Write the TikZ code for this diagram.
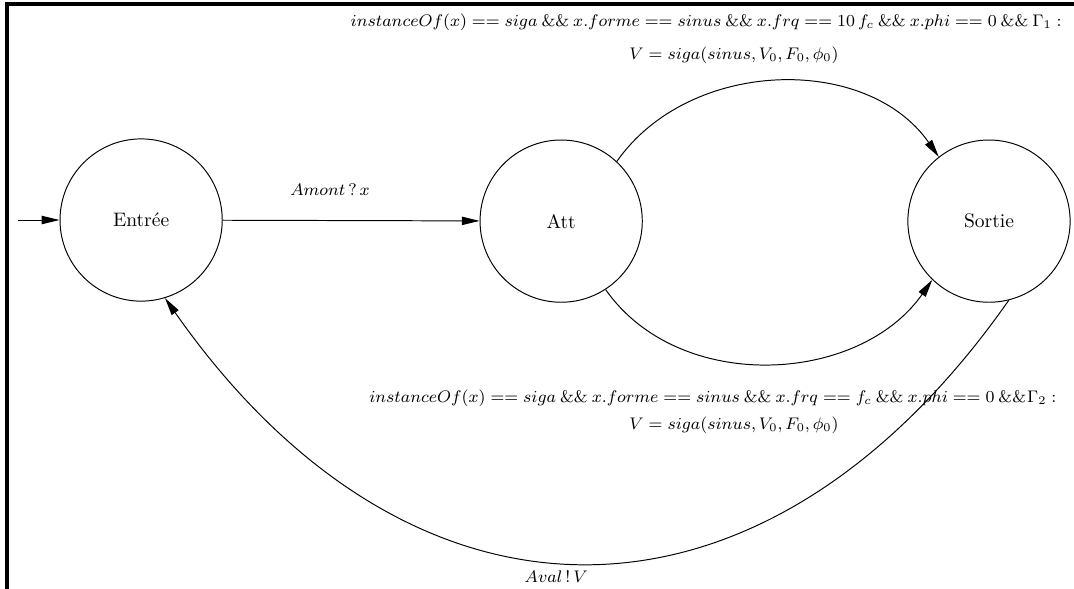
\RequirePackage{fix-cm}
\documentclass[tikz,border=0pt]{standalone}
\usepackage{amsmath,amssymb}
\usepackage{xcolor}
\usepackage{tikz}
\usetikzlibrary{arrows.meta}
\definecolor{traitnoir}{HTML}{000000}
\tikzset{
  etat/.style={circle, draw=traitnoir, line width=0.5pt, minimum size=2.92cm,
               inner sep=0pt, font=\normalsize},
  trans/.style={-{Triangle[length=3.2mm,width=1.5mm]}, line width=0.5pt,
                draw=traitnoir},
  garde/.style={inner sep=1pt, font=\fontsize{8.6pt}{10pt}\selectfont},
  cadre/.style={line width=2pt, draw=traitnoir},
}
\newcommand{\etet}{\mathbin{\&\&}}

\begin{document}
\begin{tikzpicture}
\useasboundingbox (0,0) rectangle (19.33,-10.60);

% ---------------- frame ---------------------------------------------------
\coordinate (hg) at (0.126,-0.08);
\coordinate (hd) at (19.40,-0.08);
\coordinate (bg) at (0.126,-10.70);
\draw[cadre] (hd) -- (hg) -- (bg);

% ---------------- states --------------------------------------------------
\node[etat] (entree) at (2.54,-3.96) {Entr\'ee};
\node[etat] (att)    at (10.10,-3.98) {Att};
\node[etat] (sortie) at (17.80,-3.98) {Sortie};
\coordinate (init) at (0.32,-3.96);

% ---------------- transitions ---------------------------------------------
\draw[trans] (init) -- (entree);
\draw[trans] (entree) -- (att);
\draw[trans] (att.47) to[out=55, in=125] (sortie.128);
\draw[trans] (att.-57) to[out=-55, in=-125] (sortie.-134);
\draw[trans] (sortie.-76) to[out=-125, in=-55, looseness=1.3] (entree.-73);

% ---------------- labels --------------------------------------------------
\node[garde] (amont) at (5.94,-3.42) {$Amont\,?\,x$};
\node[garde] (g1a) at (12.71,-0.40)
  {$instanceOf(x) == siga \etet x.forme == sinus \etet x.frq == 10\,f_c \etet x.phi == 0 \etet \Gamma_1 :$};
\node[garde] (g1b) at (13.21,-0.99) {$V = siga(sinus, V_0, F_0, \phi_0)$};
\node[garde] (g2a) at (12.83,-7.16)
  {$instanceOf(x) == siga \etet x.forme == sinus \etet x.frq == f_c \etet x.phi == 0 \mathbin{\&\&}\!\Gamma_2 :$};
\node[garde] (g2b) at (13.21,-7.65) {$V = siga(sinus, V_0, F_0, \phi_0)$};
\node[garde] (aval) at (10.01,-10.37) {$Aval\,!\,V$};
\end{tikzpicture}
\end{document}
